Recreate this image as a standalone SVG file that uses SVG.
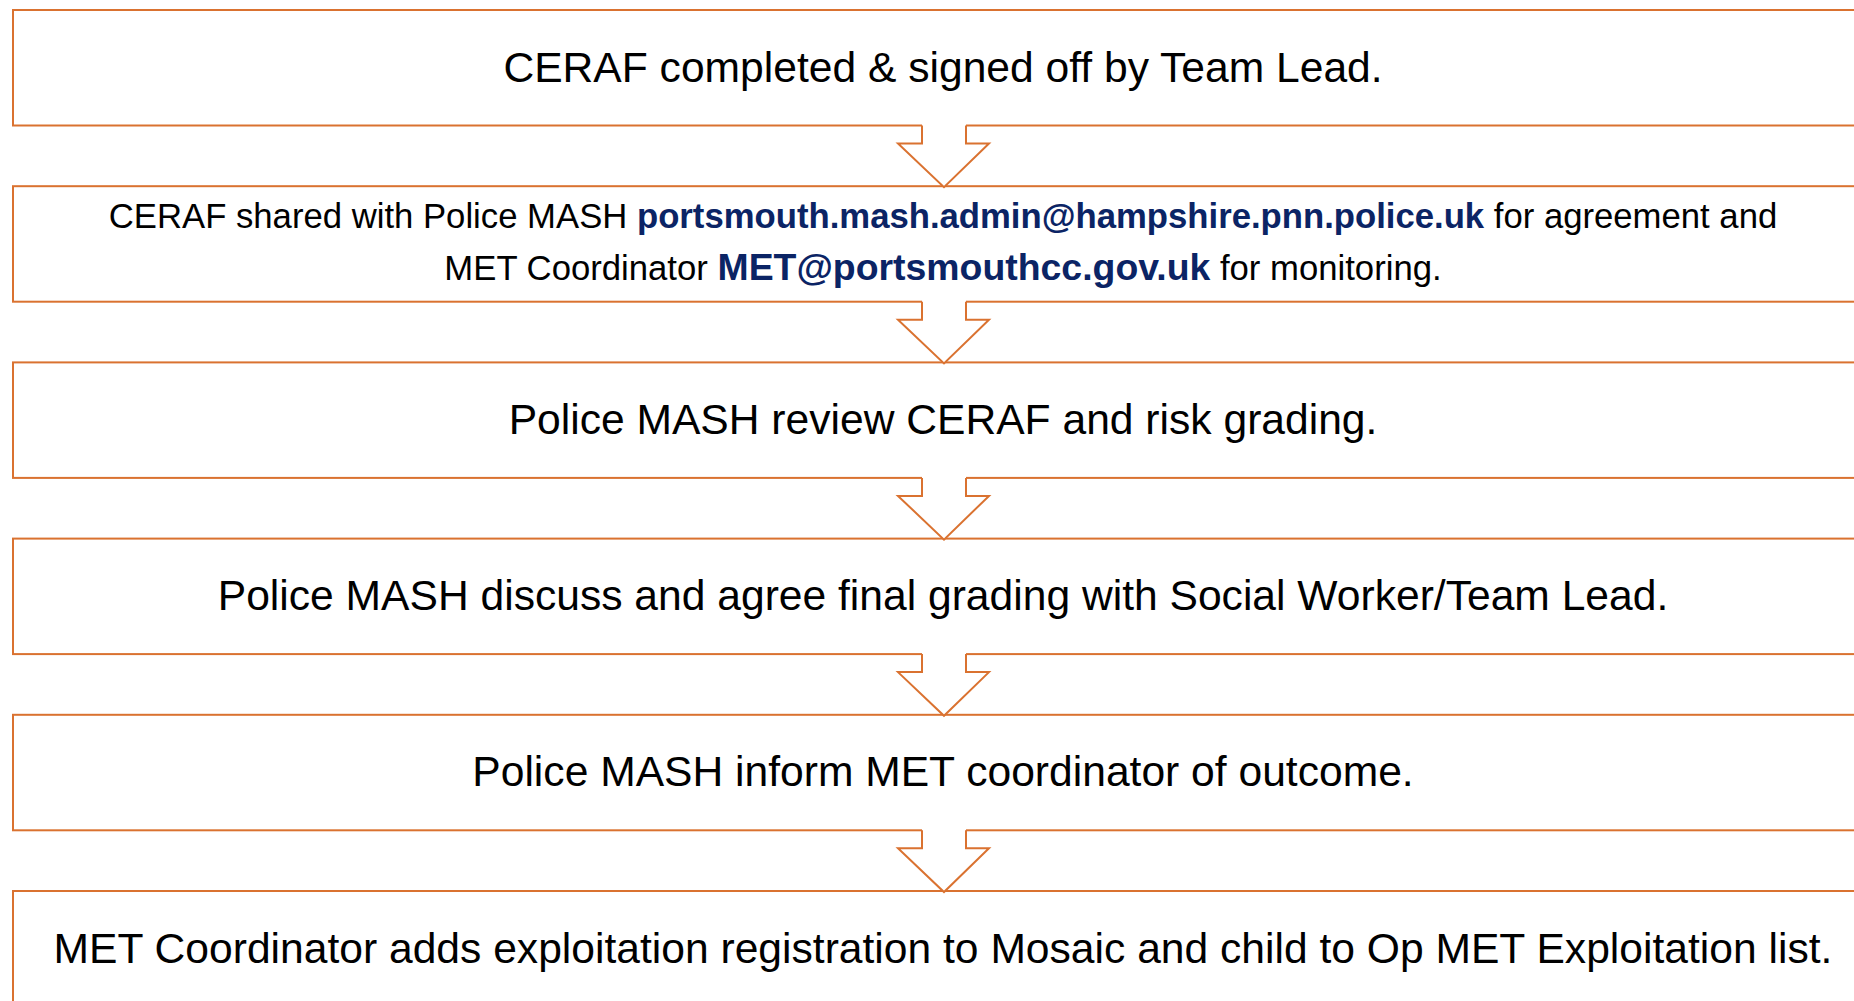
<svg xmlns="http://www.w3.org/2000/svg" width="1854" height="1001" viewBox="0 0 1854 1001">
<style>
.box{fill:#fff;stroke:#DA7230;stroke-width:2}
.arr{fill:none;stroke:#DA7230;stroke-width:2;stroke-linejoin:miter}
.cover{fill:#fff;stroke:none}
.t{font-family:"Liberation Sans",Arial,sans-serif;font-size:42.6px;fill:#000;text-anchor:middle}
.s{font-family:"Liberation Sans",Arial,sans-serif;font-size:34.7px;fill:#000;text-anchor:middle}
.em{font-weight:bold;fill:#0B2465}
</style>
<rect width="1854" height="1001" fill="#fff"/>
<g id="node1"><rect class="box" x="13" y="10" width="1900" height="115.5"/>
<text class="t" x="943" y="81.5">CERAF completed &amp; signed off by Team Lead.</text></g>
<g id="node2"><rect class="box" x="13" y="186.2" width="1900" height="115.5"/>
<text class="s" x="943" y="227.5">CERAF shared with Police MASH <tspan class="em">portsmouth.mash.admin@hampshire.pnn.police.uk</tspan> for agreement and</text>
<text class="s" x="943" y="279.5">MET Coordinator <tspan class="em" font-size="37.4">MET@portsmouthcc.gov.uk</tspan> for monitoring.</text></g>
<g id="node3"><rect class="box" x="13" y="362.4" width="1900" height="115.5"/>
<text class="t" x="943" y="434">Police MASH review CERAF and risk grading.</text></g>
<g id="node4"><rect class="box" x="13" y="538.6" width="1900" height="115.5"/>
<text class="t" x="943" y="610.2">Police MASH discuss and agree final grading with Social Worker/Team Lead.</text></g>
<g id="node5"><rect class="box" x="13" y="714.8" width="1900" height="115.5"/>
<text class="t" x="943" y="786.4">Police MASH inform MET coordinator of outcome.</text></g>
<g id="node6"><rect class="box" x="13" y="891" width="1900" height="115.5"/>
<text class="t" x="943" y="962.8">MET Coordinator adds exploitation registration to Mosaic and child to Op MET Exploitation list.</text></g>
<g id="connectors">
<polygon class="cover" points="922,123.5 966,123.5 966,143.5 989,143.5 944,187.2 898,143.5 922,143.5"/>
<path class="arr" d="M922 125.5 V143.5 H898 L944 187.2 L989 143.5 H966 V125.5"/>
<polygon class="cover" points="922,299.7 966,299.7 966,319.7 989,319.7 944,363.4 898,319.7 922,319.7"/>
<path class="arr" d="M922 301.7 V319.7 H898 L944 363.4 L989 319.7 H966 V301.7"/>
<polygon class="cover" points="922,475.9 966,475.9 966,495.9 989,495.9 944,539.6 898,495.9 922,495.9"/>
<path class="arr" d="M922 477.9 V495.9 H898 L944 539.6 L989 495.9 H966 V477.9"/>
<polygon class="cover" points="922,652.1 966,652.1 966,672.1 989,672.1 944,715.8 898,672.1 922,672.1"/>
<path class="arr" d="M922 654.1 V672.1 H898 L944 715.8 L989 672.1 H966 V654.1"/>
<polygon class="cover" points="922,828.3 966,828.3 966,848.3 989,848.3 944,892 898,848.3 922,848.3"/>
<path class="arr" d="M922 830.3 V848.3 H898 L944 892 L989 848.3 H966 V830.3"/>
</g>
</svg>
